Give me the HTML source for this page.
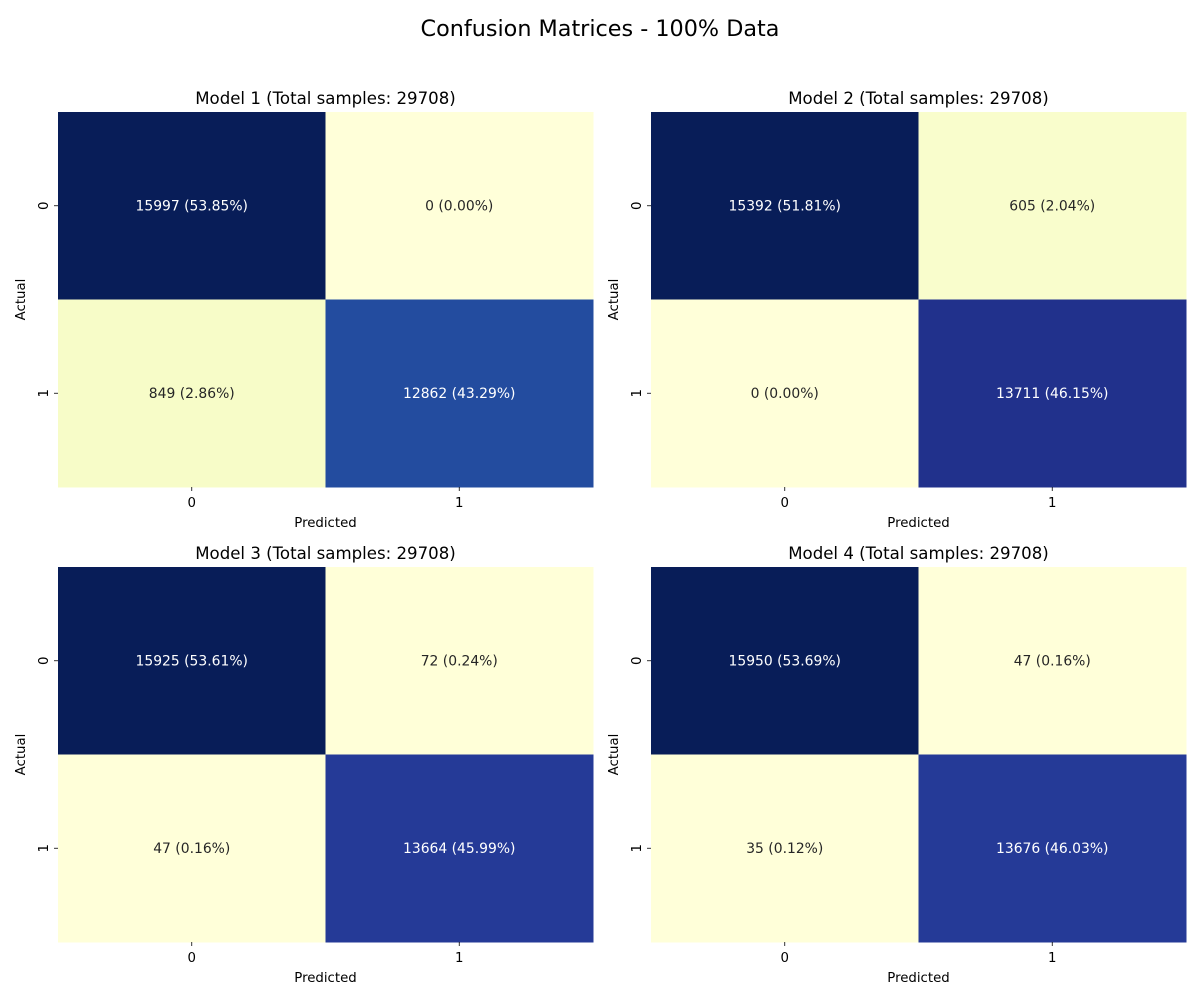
<!DOCTYPE html>
<html><head><meta charset="utf-8"><style>
body{margin:0;background:#fff;}
svg text{font-family:"DejaVu Sans","Liberation Sans",sans-serif;}
</style></head><body>
<svg id="fig" width="1200" height="1000" viewBox="0 0 1200 1000" xmlns="http://www.w3.org/2000/svg">
<rect width="1200" height="1000" fill="#fff"/>
<text x="600" y="36" text-anchor="middle" font-size="22.3" fill="#000">Confusion Matrices - 100% Data</text>
</svg>
<script>
const modelNames = ["Model 1", "Model 2", "Model 3", "Model 4"];
const totalSamples = [29708, 29708, 29708, 29708];
const classLabels = ["0", "1"];
const model1Values = [[15997, 0], [849, 12862]];
const model2Values = [[15392, 605], [0, 13711]];
const model3Values = [[15925, 72], [47, 13664]];
const model4Values = [[15950, 47], [35, 13676]];
const allValues = [model1Values, model2Values, model3Values, model4Values];

const stops = ["#ffffd9","#edf8b1","#c7e9b4","#7fcdbb","#41b6c4","#1d91c0","#225ea8","#253494","#081d58"];
function hex(h){return [1,3,5].map(i=>parseInt(h.substr(i,2),16));}
function cmap(t){
  t=Math.max(0,Math.min(1,t));const p=t*(stops.length-1);const i=Math.min(Math.floor(p),stops.length-2);const f=p-i;
  const a=hex(stops[i]),b=hex(stops[i+1]);
  const c=a.map((v,k)=>Math.round(v+(b[k]-v)*f));
  return {col:`rgb(${c[0]},${c[1]},${c[2]})`,lum:(0.299*c[0]+0.587*c[1]+0.114*c[2])};
}
const NS="http://www.w3.org/2000/svg";
const svg=document.getElementById("fig");
function mk(tag,attrs,txt){const e=document.createElementNS(NS,tag);for(const k in attrs)e.setAttribute(k,attrs[k]);if(txt!==undefined)e.textContent=txt;svg.appendChild(e);return e;}
const panels=[{x:58,y:112},{x:651,y:112},{x:58,y:567},{x:651,y:567}];
const W=535,H=375;
allValues.forEach((vals,m)=>{
  const P=panels[m];
  const flat=vals.flat();const mn=Math.min(...flat),mx=Math.max(...flat);
  const n=classLabels.length;const cw=W/n,ch=H/n;
  const xs=j=>P.x+j*cw, ys=i=>P.y+i*ch;
  const t=mk("text",{x:P.x+W/2,y:P.y-8,"text-anchor":"middle","font-size":16.6,fill:"#000"},`${modelNames[m]} (Total samples: ${totalSamples[m]})`);
  
  
  vals.forEach((row,i)=>row.forEach((v,j)=>{
    const c=cmap((v-mn)/(mx-mn||1));
    const r=mk("rect",{x:xs(j),y:ys(i),width:cw+0.5,height:ch+0.5,fill:c.col});
    
    
    const pct=(v/totalSamples[m]*100).toFixed(2);
    const tx=mk("text",{x:xs(j)+cw/2,y:ys(i)+ch/2+4.5,"text-anchor":"middle","font-size":13.9,fill:c.lum<128?"#fff":"#262626"},`${v} (${pct}%)`);
    
    
  }));
  classLabels.forEach((lab,k)=>{
    const cx=xs(k)+cw/2;
    mk("line",{x1:cx,x2:cx,y1:P.y+H,y2:P.y+H+4,stroke:"#000","stroke-width":0.8});
    const xt=mk("text",{x:cx,y:P.y+H+20,"text-anchor":"middle","font-size":13.3,fill:"#000"},lab);
    
    
    const cy=ys(k)+ch/2;
    mk("line",{x1:P.x-4,x2:P.x,y1:cy,y2:cy,stroke:"#000","stroke-width":0.8});
    const yt=mk("text",{x:P.x-10,y:cy,"text-anchor":"middle","font-size":13.3,fill:"#000",transform:`rotate(-90 ${P.x-10} ${cy})`},lab);
    
    
  });
  const xl=mk("text",{x:P.x+W/2,y:P.y+H+40,"text-anchor":"middle","font-size":13.3,fill:"#000"},"Predicted");
  
  
  const ay=P.y+H/2;
  const yl=mk("text",{x:P.x-33,y:ay,"text-anchor":"middle","font-size":13.3,fill:"#000",transform:`rotate(-90 ${P.x-33} ${ay})`},"Actual");
  
  
});
</script>
</body></html>
